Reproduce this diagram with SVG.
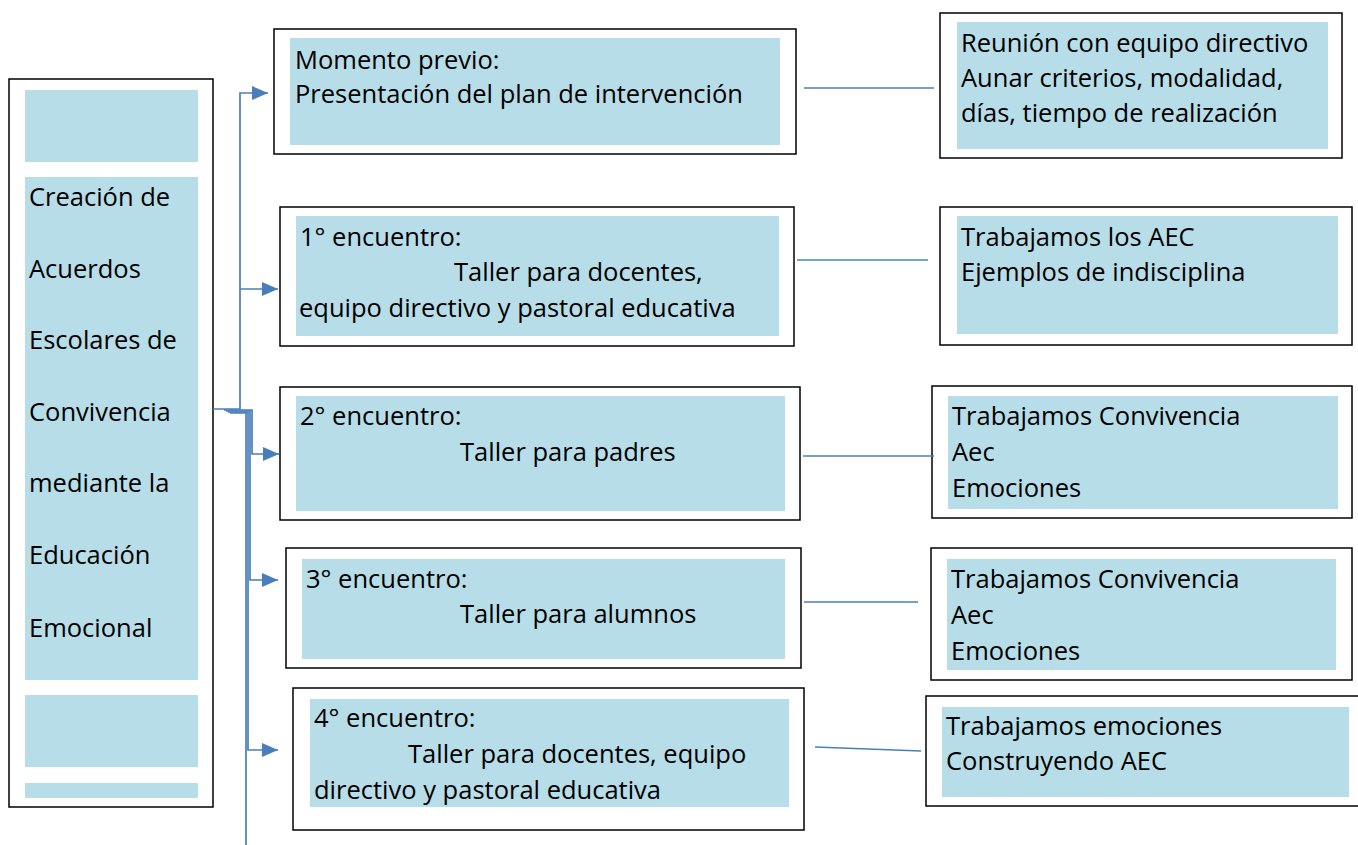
<svg xmlns="http://www.w3.org/2000/svg" width="1358" height="845" viewBox="0 0 1358 845">
<defs>
<style>
.outer{fill:#ffffff;stroke:#000;stroke-width:1.5}
.fill{fill:#b7dde8}
.t{font-family:"Open Sans","Noto Sans",sans-serif;font-size:25.5px;fill:#000}
.ln{fill:none;stroke:#4a7ebb;stroke-width:1.7}
</style>
<marker id="ah" markerWidth="16" markerHeight="14" refX="16" refY="7" orient="auto" markerUnits="userSpaceOnUse">
<path d="M0,0 L16,7 L0,14 Z" fill="#4a7ebb"/>
</marker>
</defs>
<rect width="1358" height="845" fill="#fff"/>

<g id="left">
<rect class="outer" x="9" y="79" width="204" height="728"/>
<rect class="fill" x="25" y="90" width="173" height="72"/>
<rect class="fill" x="25" y="177" width="173" height="503"/>
<rect class="fill" x="25" y="695" width="173" height="72"/>
<rect class="fill" x="25" y="783" width="173" height="15"/>
<text class="t" x="29" y="206">Creación de</text>
<text class="t" x="29" y="278">Acuerdos</text>
<text class="t" x="29" y="349">Escolares de</text>
<text class="t" x="29" y="421">Convivencia</text>
<text class="t" x="29" y="492">mediante la</text>
<text class="t" x="29" y="564">Educación</text>
<text class="t" x="29" y="637">Emocional</text>
</g>

<g id="m0">
<rect class="outer" x="274" y="29" width="522" height="125"/>
<rect class="fill" x="290" y="38" width="490" height="107"/>
<text class="t" x="295" y="69">Momento previo:</text>
<text class="t" x="295" y="103">Presentación del plan de intervención</text>
</g>
<g id="r0">
<rect class="outer" x="940" y="13" width="402" height="145"/>
<rect class="fill" x="957" y="22" width="371" height="127"/>
<text class="t" x="961" y="52">Reunión con equipo directivo</text>
<text class="t" x="961" y="87">Aunar criterios, modalidad,</text>
<text class="t" x="961" y="122">días, tiempo de realización</text>
</g>

<g id="m1">
<rect class="outer" x="280" y="207" width="514" height="139"/>
<rect class="fill" x="296" y="216" width="483" height="120"/>
<text class="t" x="300" y="246">1° encuentro:</text>
<text class="t" x="454" y="281">Taller para docentes,</text>
<text class="t" x="299" y="317">equipo directivo y pastoral educativa</text>
</g>
<g id="r1">
<rect class="outer" x="940" y="207" width="412" height="138"/>
<rect class="fill" x="957" y="216" width="381" height="118"/>
<text class="t" x="961" y="246">Trabajamos los AEC</text>
<text class="t" x="961" y="281">Ejemplos de indisciplina</text>
</g>

<g id="m2">
<rect class="outer" x="280" y="387" width="520" height="133"/>
<rect class="fill" x="296" y="396" width="489" height="115"/>
<text class="t" x="300" y="425">2° encuentro:</text>
<text class="t" x="460" y="461">Taller para padres</text>
</g>
<g id="r2">
<rect class="outer" x="932" y="386" width="420" height="132"/>
<rect class="fill" x="948" y="396" width="390" height="113"/>
<text class="t" x="952" y="425">Trabajamos Convivencia</text>
<text class="t" x="952" y="461">Aec</text>
<text class="t" x="952" y="497">Emociones</text>
</g>

<g id="m3">
<rect class="outer" x="286" y="548" width="515" height="120"/>
<rect class="fill" x="302" y="559" width="483" height="100"/>
<text class="t" x="306" y="588">3° encuentro:</text>
<text class="t" x="460" y="623">Taller para alumnos</text>
</g>
<g id="r3">
<rect class="outer" x="931" y="548" width="421" height="132"/>
<rect class="fill" x="947" y="559" width="389" height="111"/>
<text class="t" x="951" y="588">Trabajamos Convivencia</text>
<text class="t" x="951" y="624">Aec</text>
<text class="t" x="951" y="660">Emociones</text>
</g>

<g id="m4">
<rect class="outer" x="293" y="688" width="511" height="142"/>
<rect class="fill" x="310" y="699" width="479" height="108"/>
<text class="t" x="314" y="727">4° encuentro:</text>
<text class="t" x="408" y="763">Taller para docentes, equipo</text>
<text class="t" x="314" y="799">directivo y pastoral educativa</text>
</g>
<g id="r4">
<rect class="outer" x="926" y="696" width="440" height="110"/>
<rect class="fill" x="942" y="707" width="407" height="90"/>
<text class="t" x="946" y="735">Trabajamos emociones</text>
<text class="t" x="946" y="770">Construyendo AEC</text>
</g>

<g id="connectors">
<polyline class="ln" points="213,409 240,409 240,93 268,93" marker-end="url(#ah)"/>
<polyline class="ln" points="240,289 278,289" marker-end="url(#ah)"/>
<polyline class="ln" points="224,410 252,410 252,454 279,454" marker-end="url(#ah)"/>
<polyline class="ln" points="226,411 250,411 250,580 278,580" marker-end="url(#ah)"/>
<polyline class="ln" points="228,412 248,412 248,750 278,750" marker-end="url(#ah)"/>
<polyline class="ln" points="230,413 246,413 246,845"/>
<line class="ln" x1="804" y1="88" x2="934" y2="88"/>
<line class="ln" x1="797" y1="260" x2="928" y2="260"/>
<line class="ln" x1="803" y1="456" x2="934" y2="456"/>
<line class="ln" x1="804" y1="602" x2="918" y2="602"/>
<line class="ln" x1="815" y1="747" x2="921" y2="751"/>
</g>
</svg>
